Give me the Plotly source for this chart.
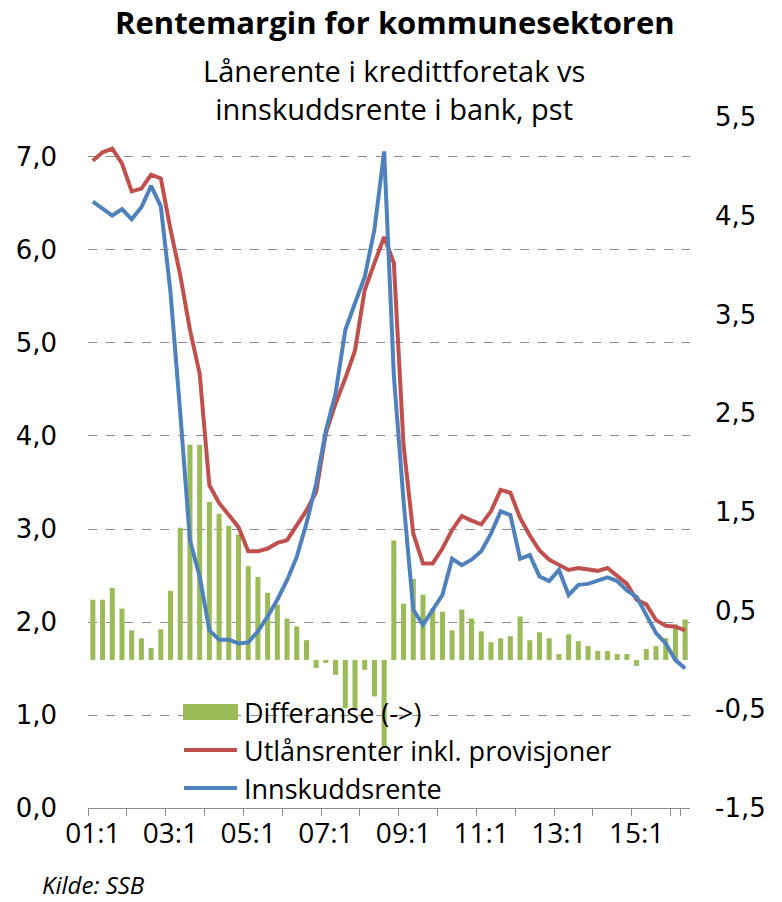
import plotly.graph_objects as go

# Quarterly categories 2001Q1 .. 2016Q2
categories = [f"{y:02d}:{q}" for y in range(1, 17) for q in range(1, 5)][:62]

utlansrente = [6.96, 7.05, 7.09, 6.93, 6.63, 6.66, 6.81, 6.77, 6.22, 5.73,
               5.14, 4.67, 3.47, 3.28, 3.15, 3.02, 2.76, 2.76, 2.79, 2.85,
               2.88, 3.05, 3.20, 3.40, 4.03, 4.35, 4.62, 4.92, 5.57, 5.86,
               6.14, 5.86, 3.90, 2.95, 2.63, 2.63, 2.79, 2.99, 3.14, 3.09,
               3.05, 3.19, 3.42, 3.39, 3.12, 2.93, 2.77, 2.67, 2.61, 2.56,
               2.58, 2.56, 2.55, 2.58, 2.50, 2.41, 2.24, 2.19, 2.02, 1.96,
               1.95, 1.91]

innskuddsrente = [6.52, 6.45, 6.37, 6.44, 6.33, 6.46, 6.69, 6.47, 5.54, 4.25,
                  2.88, 2.49, 1.91, 1.81, 1.81, 1.77, 1.78, 1.90, 2.06, 2.24,
                  2.45, 2.70, 3.06, 3.49, 4.06, 4.46, 5.14, 5.43, 5.71, 6.22,
                  7.06, 4.65, 3.30, 2.13, 1.97, 2.13, 2.29, 2.68, 2.61, 2.67,
                  2.76, 2.95, 3.19, 3.15, 2.68, 2.72, 2.49, 2.44, 2.56, 2.29,
                  2.40, 2.41, 2.45, 2.48, 2.44, 2.34, 2.27, 2.07, 1.88, 1.77,
                  1.59, 1.50]

differanse = [0.61, 0.61, 0.73, 0.52, 0.30, 0.22, 0.12, 0.31, 0.70, 1.34,
              2.18, 2.18, 1.60, 1.48, 1.36, 1.27, 0.95, 0.84, 0.68, 0.56,
              0.42, 0.34, 0.20, -0.08, -0.03, -0.15, -0.49, -0.49, -0.10, -0.37,
              -0.89, 1.21, 0.57, 0.82, 0.66, 0.52, 0.49, 0.30, 0.51, 0.42,
              0.29, 0.18, 0.22, 0.24, 0.44, 0.20, 0.28, 0.22, 0.06, 0.26,
              0.19, 0.14, 0.09, 0.09, 0.06, 0.06, -0.06, 0.11, 0.14, 0.22,
              0.36, 0.41]

x_tick_labels = ["01:1", "03:1", "05:1", "07:1", "09:1", "11:1", "13:1", "15:1"]
left_ticks = [0, 1, 2, 3, 4, 5, 6, 7]
right_ticks = [-1.5, -0.5, 0.5, 1.5, 2.5, 3.5, 4.5, 5.5]

series_names = ["Differanse (->)", "Utlånsrenter inkl. provisjoner", "Innskuddsrente"]


def fmt(v):
    return f"{v:.1f}".replace(".", ",")


tick_cats = categories[0::4]
tick_text = [c if c in x_tick_labels else "" for c in tick_cats]

RED = "#C0504D"
BLUE = "#4F81BD"
GREEN = "#9BBB59"
GRID = "#8C8C8C"
FONT = "Open Sans, sans-serif"
NUMFONT = "DejaVu Sans, sans-serif"

# plot area in page pixels
L, R, T, B = 88, 690, 117, 808
W, H = 782, 902


def px(xp):
    return (xp - L) / (R - L)


def py(yp):
    return (B - yp) / (B - T)


fig = go.Figure()
fig.add_trace(go.Bar(x=categories, y=differanse, name=series_names[0],
                     marker=dict(color=GREEN, line=dict(width=0)), yaxis="y"))
fig.add_trace(go.Scatter(x=categories, y=utlansrente, name=series_names[1],
                         mode="lines", line=dict(color=RED, width=4), yaxis="y2"))
fig.add_trace(go.Scatter(x=categories, y=innskuddsrente, name=series_names[2],
                         mode="lines", line=dict(color=BLUE, width=4), yaxis="y2"))

fig.update_layout(
    width=W, height=H,
    margin=dict(l=L, r=W - R, t=T, b=H - B),
    paper_bgcolor="white", plot_bgcolor="white",
    bargap=0.48,
    showlegend=False,
    font=dict(family=FONT, color="black"),
    xaxis=dict(
        type="category", range=[-0.5, 61.5],
        tickson="boundaries", tickvals=tick_cats, ticktext=tick_text,
        ticks="outside", ticklen=7, tickcolor=GRID, tickwidth=1,
        showline=True, linecolor=GRID, linewidth=1,
        showgrid=False, tickangle=0,
        tickfont=dict(family=FONT, size=28, color="black"),
    ),
    yaxis=dict(
        side="right", range=[-1.5, 5.5],
        tickvals=right_ticks, ticktext=[fmt(v) for v in right_ticks],
        showgrid=False, zeroline=False, showline=False, ticks="",
        ticklabelstandoff=24,
        tickfont=dict(family=NUMFONT, size=26, color="black"),
    ),
    yaxis2=dict(
        overlaying="y", side="left", range=[0, 7.43],
        tickvals=left_ticks, ticktext=[fmt(v) for v in left_ticks],
        showgrid=True, gridcolor=GRID, gridwidth=1, griddash="dash",
        zeroline=False, showline=False, ticks="",
        ticklabelstandoff=30,
        tickfont=dict(family=NUMFONT, size=26, color="black"),
    ),
)

# Titles
fig.add_annotation(text="<b>Rentemargin for kommunesektoren</b>", xref="paper", yref="paper",
                   x=px(395), y=py(22), xanchor="center", yanchor="middle",
                   showarrow=False, font=dict(family=FONT, size=31, color="black"))
fig.add_annotation(text="Lånerente i kredittforetak vs<br>innskuddsrente i bank, pst",
                   xref="paper", yref="paper",
                   x=px(394), y=py(89), xanchor="center", yanchor="middle", align="center",
                   showarrow=False, font=dict(family=FONT, size=29, color="black"))
fig.add_annotation(text="<i>Kilde: SSB</i>", xref="paper", yref="paper",
                   x=px(40), y=py(884), xanchor="left", yanchor="middle",
                   showarrow=False, font=dict(family=FONT, size=24, color="black"))

# Legend (drawn as keys + text)
rows = [712, 750, 788]
fig.add_shape(type="rect", xref="paper", yref="paper",
              x0=px(183), x1=px(238), y0=py(720), y1=py(704),
              fillcolor=GREEN, line=dict(width=0), layer="above")
for yrow, col in zip(rows[1:], [RED, BLUE]):
    fig.add_shape(type="line", xref="paper", yref="paper",
                  x0=px(184), x1=px(237), y0=py(yrow), y1=py(yrow),
                  line=dict(color=col, width=4), layer="above")
for yrow, name in zip(rows, series_names):
    fig.add_annotation(text=name, xref="paper", yref="paper",
                       x=px(242), y=py(yrow), xanchor="left", yanchor="middle",
                       showarrow=False, font=dict(family=FONT, size=27, color="black"))

fig.write_html("out.html", post_script="document.body.style.margin='0';",
               config={"displayModeBar": False})
